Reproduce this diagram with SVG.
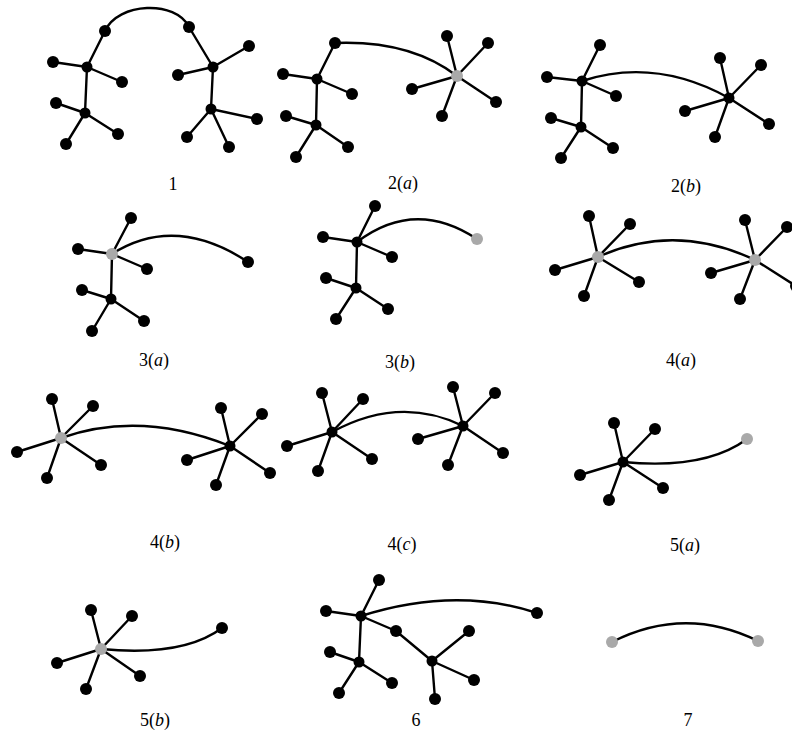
<svg xmlns="http://www.w3.org/2000/svg" width="792" height="748" viewBox="0 0 792 748">
<style>
.e{stroke:#000;stroke-width:2.4;fill:none;stroke-linecap:round}
.n{fill:#000}
.g{fill:#a9a9a9}
.lb{font-family:"Liberation Serif","DejaVu Serif",serif;font-size:18px;fill:#000;text-anchor:middle}
.it{font-style:italic}
</style>
<rect width="792" height="748" fill="#fff"/>
<g id="connectors">
<!-- 1 -->
<path class="e" d="M105,31 C118,2 176,0 189,27"/>
<path class="e" d="M105,31L87,67M87,67L53,62M87,67L122,82M87,67L85,113M85,113L56,103M85,113L118,134M85,113L66,144"/>
<path class="e" d="M189,27L213,67M213,67L249,46M213,67L178,75M213,67L211,109M211,109L257,119M211,109L187,137M211,109L229,147"/>
<!-- 2a -->
<path class="e" d="M335,43 Q410,40 457,76"/>
<path class="e" d="M335,43L317,79M317,79L283,74M317,79L352,94M317,79L316,125M316,125L286,116M316,125L348,147M316,125L296,157"/>
<path class="e" d="M457,76L447,36M457,76L488,43M457,76L412,89M457,76L496,102M457,76L442,116"/>
<!-- 2b -->
<path class="e" d="M582,81 Q655,57 729,98"/>
<path class="e" d="M582,81L600,45M582,81L547,77M582,81L616,96M582,81L581,127M581,127L551,118M581,127L613,148M581,127L561,158"/>
<path class="e" d="M729,98L720,58M729,98L761,65M729,98L685,111M729,98L769,124M729,98L715,137"/>
<!-- 3a -->
<path class="e" d="M112,254 Q175,214 248,262"/>
<path class="e" d="M112,254L131,218M112,254L78,249M112,254L147,269M112,254L111,299M111,299L82,290M111,299L144,321M111,299L92,331"/>
<!-- 3b -->
<path class="e" d="M357,242 Q415,198 477,239"/>
<path class="e" d="M357,242L375,206M357,242L323,237M357,242L392,257M357,242L356,288M356,288L326,278M356,288L388,309M356,288L336,319"/>
<!-- 4a -->
<path class="e" d="M598,257 Q675,222 755,260"/>
<path class="e" d="M598,257L589,216M598,257L630,224M598,257L555,270M598,257L639,282M598,257L584,296"/>
<path class="e" d="M755,260L745,220M755,260L787,227M755,260L711,273M755,260L796,286M755,260L740,299"/>
<!-- 4b -->
<path class="e" d="M61,438 Q140,410 230,446"/>
<path class="e" d="M61,438L52,399M61,438L93,406M61,438L17,452M61,438L101,465M61,438L47,478"/>
<path class="e" d="M230,446L221,408M230,446L262,414M230,446L187,460M230,446L270,473M230,446L216,485"/>
<!-- 4c -->
<path class="e" d="M332,432 Q400,395 463,426"/>
<path class="e" d="M332,432L322,393M332,432L363,399M332,432L287,446M332,432L372,459M332,432L318,471"/>
<path class="e" d="M463,426L453,387M463,426L495,393M463,426L418,439M463,426L503,453M463,426L448,465"/>
<!-- 5a -->
<path class="e" d="M623,462 Q705,470 747,439"/>
<path class="e" d="M623,462L614,423M623,462L655,429M623,462L580,475M623,462L663,488M623,462L609,500"/>
<!-- 5b -->
<path class="e" d="M101,649 Q183,657 222,628"/>
<path class="e" d="M101,649L91,610M101,649L132,616M101,649L57,663M101,649L140,676M101,649L86,689"/>
<!-- 6 -->
<path class="e" d="M361,616 Q455,586 537,613"/>
<path class="e" d="M361,616L379,580M361,616L326,611M361,616L396,631M361,616L359,662M359,662L330,652M359,662L392,683M359,662L339,693M396,631L432,661M432,661L469,631M432,661L474,680M432,661L435,699"/>
<!-- 7 -->
<path class="e" d="M612,642 Q685,605 758,641"/>
</g>
<g id="fig1">
<circle class="n" cx="105" cy="31" r="6"/><circle class="n" cx="189" cy="27" r="6"/>
<circle class="n" cx="87" cy="67" r="5.5"/><circle class="n" cx="53" cy="62" r="6"/><circle class="n" cx="122" cy="82" r="6"/>
<circle class="n" cx="85" cy="113" r="5.5"/><circle class="n" cx="56" cy="103" r="6"/><circle class="n" cx="118" cy="134" r="6"/><circle class="n" cx="66" cy="144" r="6"/>
<circle class="n" cx="213" cy="67" r="5.5"/><circle class="n" cx="249" cy="46" r="6"/><circle class="n" cx="178" cy="75" r="6"/>
<circle class="n" cx="211" cy="109" r="5.5"/><circle class="n" cx="257" cy="119" r="6"/><circle class="n" cx="187" cy="137" r="6"/><circle class="n" cx="229" cy="147" r="6"/>
</g>
<g id="fig2a">
<circle class="n" cx="335" cy="43" r="6"/>
<circle class="n" cx="317" cy="79" r="5.5"/><circle class="n" cx="283" cy="74" r="6"/><circle class="n" cx="352" cy="94" r="6"/>
<circle class="n" cx="316" cy="125" r="5.5"/><circle class="n" cx="286" cy="116" r="6"/><circle class="n" cx="348" cy="147" r="6"/><circle class="n" cx="296" cy="157" r="6"/>
<circle class="g" cx="457" cy="76" r="6"/><circle class="n" cx="447" cy="36" r="6"/><circle class="n" cx="488" cy="43" r="6"/><circle class="n" cx="412" cy="89" r="6"/><circle class="n" cx="496" cy="102" r="6"/><circle class="n" cx="442" cy="116" r="6"/>
</g>
<g id="fig2b">
<circle class="n" cx="582" cy="81" r="5.5"/><circle class="n" cx="600" cy="45" r="6"/><circle class="n" cx="547" cy="77" r="6"/><circle class="n" cx="616" cy="96" r="6"/>
<circle class="n" cx="581" cy="127" r="5.5"/><circle class="n" cx="551" cy="118" r="6"/><circle class="n" cx="613" cy="148" r="6"/><circle class="n" cx="561" cy="158" r="6"/>
<circle class="n" cx="729" cy="98" r="5.5"/><circle class="n" cx="720" cy="58" r="6"/><circle class="n" cx="761" cy="65" r="6"/><circle class="n" cx="685" cy="111" r="6"/><circle class="n" cx="769" cy="124" r="6"/><circle class="n" cx="715" cy="137" r="6"/>
</g>
<g id="fig3a">
<circle class="g" cx="112" cy="254" r="6"/><circle class="n" cx="131" cy="218" r="6"/><circle class="n" cx="78" cy="249" r="6"/><circle class="n" cx="147" cy="269" r="6"/>
<circle class="n" cx="111" cy="299" r="5.5"/><circle class="n" cx="82" cy="290" r="6"/><circle class="n" cx="144" cy="321" r="6"/><circle class="n" cx="92" cy="331" r="6"/>
<circle class="n" cx="248" cy="262" r="6"/>
</g>
<g id="fig3b">
<circle class="n" cx="357" cy="242" r="5.5"/><circle class="n" cx="375" cy="206" r="6"/><circle class="n" cx="323" cy="237" r="6"/><circle class="n" cx="392" cy="257" r="6"/>
<circle class="n" cx="356" cy="288" r="5.5"/><circle class="n" cx="326" cy="278" r="6"/><circle class="n" cx="388" cy="309" r="6"/><circle class="n" cx="336" cy="319" r="6"/>
<circle class="g" cx="477" cy="239" r="6"/>
</g>
<g id="fig4a">
<circle class="g" cx="598" cy="257" r="6"/><circle class="n" cx="589" cy="216" r="6"/><circle class="n" cx="630" cy="224" r="6"/><circle class="n" cx="555" cy="270" r="6"/><circle class="n" cx="639" cy="282" r="6"/><circle class="n" cx="584" cy="296" r="6"/>
<circle class="g" cx="755" cy="260" r="6"/><circle class="n" cx="745" cy="220" r="6"/><circle class="n" cx="787" cy="227" r="6"/><circle class="n" cx="711" cy="273" r="6"/><circle class="n" cx="796" cy="286" r="6"/><circle class="n" cx="740" cy="299" r="6"/>
</g>
<g id="fig4b">
<circle class="g" cx="61" cy="438" r="6"/><circle class="n" cx="52" cy="399" r="6"/><circle class="n" cx="93" cy="406" r="6"/><circle class="n" cx="17" cy="452" r="6"/><circle class="n" cx="101" cy="465" r="6"/><circle class="n" cx="47" cy="478" r="6"/>
<circle class="n" cx="230" cy="446" r="5.5"/><circle class="n" cx="221" cy="408" r="6"/><circle class="n" cx="262" cy="414" r="6"/><circle class="n" cx="187" cy="460" r="6"/><circle class="n" cx="270" cy="473" r="6"/><circle class="n" cx="216" cy="485" r="6"/>
</g>
<g id="fig4c">
<circle class="n" cx="332" cy="432" r="5.5"/><circle class="n" cx="322" cy="393" r="6"/><circle class="n" cx="363" cy="399" r="6"/><circle class="n" cx="287" cy="446" r="6"/><circle class="n" cx="372" cy="459" r="6"/><circle class="n" cx="318" cy="471" r="6"/>
<circle class="n" cx="463" cy="426" r="5.5"/><circle class="n" cx="453" cy="387" r="6"/><circle class="n" cx="495" cy="393" r="6"/><circle class="n" cx="418" cy="439" r="6"/><circle class="n" cx="503" cy="453" r="6"/><circle class="n" cx="448" cy="465" r="6"/>
</g>
<g id="fig5a">
<circle class="n" cx="623" cy="462" r="5.5"/><circle class="n" cx="614" cy="423" r="6"/><circle class="n" cx="655" cy="429" r="6"/><circle class="n" cx="580" cy="475" r="6"/><circle class="n" cx="663" cy="488" r="6"/><circle class="n" cx="609" cy="500" r="6"/>
<circle class="g" cx="747" cy="439" r="6"/>
</g>
<g id="fig5b">
<circle class="g" cx="101" cy="649" r="6"/><circle class="n" cx="91" cy="610" r="6"/><circle class="n" cx="132" cy="616" r="6"/><circle class="n" cx="57" cy="663" r="6"/><circle class="n" cx="140" cy="676" r="6"/><circle class="n" cx="86" cy="689" r="6"/>
<circle class="n" cx="222" cy="628" r="6"/>
</g>
<g id="fig6">
<circle class="n" cx="361" cy="616" r="5.5"/><circle class="n" cx="379" cy="580" r="6"/><circle class="n" cx="326" cy="611" r="6"/><circle class="n" cx="396" cy="631" r="6"/>
<circle class="n" cx="359" cy="662" r="5.5"/><circle class="n" cx="330" cy="652" r="6"/><circle class="n" cx="392" cy="683" r="6"/><circle class="n" cx="339" cy="693" r="6"/>
<circle class="n" cx="432" cy="661" r="5.5"/><circle class="n" cx="469" cy="631" r="6"/><circle class="n" cx="474" cy="680" r="6"/><circle class="n" cx="435" cy="699" r="6"/>
<circle class="n" cx="537" cy="613" r="6"/>
</g>
<g id="fig7">
<circle class="g" cx="612" cy="642" r="6"/><circle class="g" cx="758" cy="641" r="6"/>
</g>
<g id="labels">
<text class="lb" x="173" y="190">1</text>
<text class="lb" x="403" y="189">2(<tspan class="it">a</tspan>)</text>
<text class="lb" x="686" y="192">2(<tspan class="it">b</tspan>)</text>
<text class="lb" x="154" y="366">3(<tspan class="it">a</tspan>)</text>
<text class="lb" x="400" y="368">3(<tspan class="it">b</tspan>)</text>
<text class="lb" x="681" y="366">4(<tspan class="it">a</tspan>)</text>
<text class="lb" x="165" y="548">4(<tspan class="it">b</tspan>)</text>
<text class="lb" x="402" y="550">4(<tspan class="it">c</tspan>)</text>
<text class="lb" x="685" y="551">5(<tspan class="it">a</tspan>)</text>
<text class="lb" x="155" y="726">5(<tspan class="it">b</tspan>)</text>
<text class="lb" x="416" y="726">6</text>
<text class="lb" x="688" y="726">7</text>
</g>
</svg>
